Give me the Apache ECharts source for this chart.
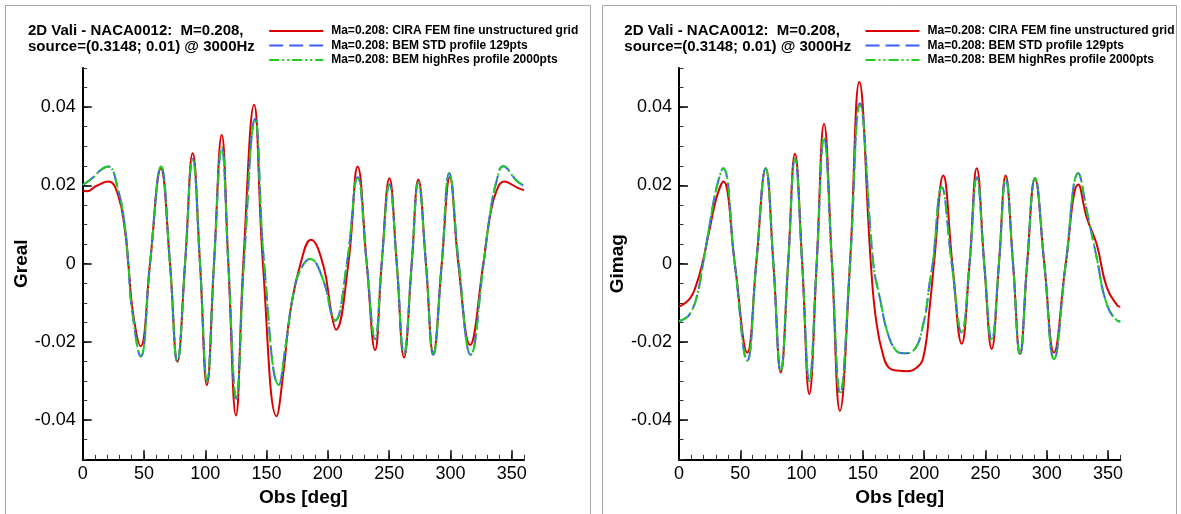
<!DOCTYPE html>
<html><head><meta charset="utf-8">
<script src="https://cdn.jsdelivr.net/npm/echarts@6/dist/echarts.min.js"></script>
<style>html,body{margin:0;padding:0;background:#fff}#c{width:1181px;height:514px}</style>
</head><body><div id="c"></div>
<script>
// ---- data ----
const xTicks = [0, 50, 100, 150, 200, 250, 300, 350];
const yTicks = [-0.04, -0.02, 0, 0.02, 0.04];
const seriesNames = [
  'Ma=0.208: CIRA FEM fine unstructured grid',
  'Ma=0.208: BEM STD profile 129pts',
  'Ma=0.208: BEM highRes profile 2000pts'
];
const panelTitle = '2D Vali - NACA0012:  M=0.208,\nsource=(0.3148; 0.01) @ 3000Hz';
const xName = 'Obs [deg]';
const yNames = ['Greal', 'Gimag'];

// Greal panel: [Obs deg, value]
const grealCira = [[0,0.0187],[3.3,0.0185],[11.4,0.0199],[21,0.0210],[29,0.0174],[34.5,0.0084],[37.2,0],[41,-0.0125],[47.3,-0.0211],[54.9,0],[63.7,0.0243],[71.2,0],[77.2,-0.0250],[83.5,0],[89.7,0.0282],[95.7,0],[101.3,-0.0310],[107.1,0],[113.4,0.0329],[118.8,0],[125,-0.0388],[131,0],[139.8,0.0406],[147,0],[158.2,-0.0390],[164,-0.027],[169,-0.0129],[177.3,-0.0005],[186.2,0.0061],[196.3,-0.0005],[203,-0.0129],[206.6,-0.0169],[216.7,0],[224.3,0.0248],[231.7,0],[238.5,-0.0221],[243.9,0],[250.2,0.0218],[256.2,0],[262.1,-0.0240],[268.4,0],[273.8,0.0215],[280,0],[286,-0.0228],[292.9,0],[299.5,0.0221],[306.4,0],[316,-0.0208],[326.8,0],[332.3,0.0122],[337.7,0.0187],[344,0.0210],[354,0.0195],[360,0.0188]];
const grealBemStd = [[0,0.0201],[8.7,0.0221],[15,0.0240],[20.9,0.0248],[29,0.0187],[34.5,0.0093],[37.2,0],[40,-0.0112],[47.3,-0.0237],[54.9,0],[63.9,0.0248],[71.2,0],[77.2,-0.0252],[83.5,0],[89.7,0.0268],[95.7,0],[101.5,-0.0300],[107.1,0],[113.4,0.0297],[118.8,0],[125.3,-0.0345],[131.5,0],[140.6,0.0370],[148,0],[160,-0.0310],[166,-0.020],[171.8,-0.0078],[177.3,-0.0018],[185.5,0.0012],[196.3,-0.0043],[203,-0.0129],[205.8,-0.0146],[215.5,0],[224.3,0.0221],[231.7,0],[238.5,-0.0193],[243.9,0],[250.2,0.0202],[256.2,0],[262.1,-0.0231],[268.4,0],[273.8,0.0208],[280,0],[286,-0.0233],[292.9,0],[299,0.0231],[306.8,0],[316.5,-0.0233],[327,0],[332.3,0.0128],[337.7,0.0212],[343,0.0249],[354,0.0212],[360,0.0199]];
const grealBemHigh = [[0,0.0201],[8.7,0.0221],[15,0.0240],[20.9,0.0248],[29,0.0187],[34.5,0.0093],[37.2,0],[40,-0.0112],[47.3,-0.0237],[54.9,0],[63.9,0.0248],[71.2,0],[77.2,-0.0252],[83.5,0],[89.7,0.0268],[95.7,0],[101.5,-0.0300],[107.1,0],[113.4,0.0297],[118.8,0],[125.3,-0.0345],[131.5,0],[140.6,0.0368],[148,0],[160,-0.0310],[166,-0.020],[171.8,-0.0078],[177.3,-0.0018],[185.5,0.0012],[196.3,-0.0043],[203,-0.0129],[205.8,-0.0146],[215.5,0],[224.3,0.0221],[231.7,0],[238.5,-0.0193],[243.9,0],[250.2,0.0202],[256.2,0],[262.1,-0.0231],[268.4,0],[273.8,0.0208],[280,0],[286,-0.0233],[292.9,0],[299,0.0231],[306.8,0],[316.5,-0.0233],[327,0],[332.3,0.0128],[337.7,0.0212],[343,0.0249],[354,0.0212],[360,0.0199]];

// Gimag panel: [Obs deg, value]
const gimagCira = [[0,-0.0110],[9,-0.0089],[14.4,-0.0051],[19,0],[25.3,0.0093],[30.7,0.0170],[36.2,0.0210],[45.5,0],[55.7,-0.0227],[63,0],[70.7,0.0244],[77,0],[83,-0.0278],[89,0],[94.6,0.0281],[100.5,0],[106.3,-0.0333],[112.3,0],[118.3,0.0357],[124.8,0],[131.3,-0.0376],[139.5,0],[147.1,0.0464],[156.5,0],[161,-0.0150],[167,-0.0240],[172,-0.0268],[178,-0.0273],[186,-0.0275],[193,-0.0268],[199.3,-0.0240],[204.8,-0.0102],[208,0],[215.6,0.0225],[223,0],[230.6,-0.0205],[237,0],[242.9,0.0244],[249,0],[255.1,-0.0218],[261,0],[266.5,0.0225],[272.5,0],[278.2,-0.0231],[284,0],[290.4,0.0217],[298,0],[305.9,-0.0227],[315.5,0],[325.8,0.0202],[332.6,0.0118],[340.7,0.0050],[348.9,-0.0060],[357.6,-0.0107],[360,-0.0110]];
const gimagBemStd = [[0,-0.0147],[5,-0.0140],[9,-0.0128],[14.4,-0.0086],[19.6,0],[25.3,0.0105],[30.7,0.0195],[36,0.0244],[45.5,0],[55.7,-0.0248],[63,0],[70.7,0.0243],[77,0],[83,-0.0275],[89,0],[94.6,0.0268],[100.5,0],[106.3,-0.0300],[112.3,0],[118.3,0.0323],[124.8,0],[131.5,-0.0333],[139.5,0],[147.6,0.0410],[158.5,0],[164,-0.0090],[170,-0.0175],[177,-0.0222],[183,-0.0229],[191,-0.0223],[199.3,-0.0154],[204.8,-0.0043],[207,0],[214.3,0.0195],[222.5,0],[230.6,-0.0176],[237,0],[242.9,0.0221],[249,0],[255.1,-0.0197],[261,0],[266.5,0.0217],[272.5,0],[278.2,-0.0233],[284,0],[290.4,0.0219],[298,0],[305.9,-0.0244],[315.5,0],[325.8,0.0231],[332.6,0.0136],[340.7,0.0016],[348.9,-0.0103],[357.6,-0.0146],[360,-0.0148]];
const gimagBemHigh = [[0,-0.0147],[5,-0.0140],[9,-0.0128],[14.4,-0.0086],[19.6,0],[25.3,0.0105],[30.7,0.0195],[36,0.0244],[45.5,0],[55.7,-0.0248],[63,0],[70.7,0.0243],[77,0],[83,-0.0275],[89,0],[94.6,0.0268],[100.5,0],[106.3,-0.0300],[112.3,0],[118.3,0.0323],[124.8,0],[131.5,-0.0333],[139.5,0],[147.6,0.0405],[158.5,0],[164,-0.0090],[170,-0.0175],[177,-0.0222],[183,-0.0229],[191,-0.0223],[199.3,-0.0154],[204.8,-0.0043],[207,0],[214.3,0.0195],[222.5,0],[230.6,-0.0176],[237,0],[242.9,0.0221],[249,0],[255.1,-0.0197],[261,0],[266.5,0.0217],[272.5,0],[278.2,-0.0233],[284,0],[290.4,0.0219],[298,0],[305.9,-0.0244],[315.5,0],[325.8,0.0231],[332.6,0.0136],[340.7,0.0016],[348.9,-0.0103],[357.6,-0.0146],[360,-0.0148]];

// ---- styling / layout ----
const FONT = '"Liberation Sans", Arial, Helvetica, sans-serif';
const colors = ['#dd0000', '#3c5cff', '#1fcc1f'];
const dashes = ['solid', [14, 6], [10, 3, 2, 3, 2, 3]];
const gridLefts = [82.7, 679];

const fmtY = v => {
  const r = Math.round(v * 1000);
  if (!yTicks.some(t => Math.round(t * 1000) === r)) return '';
  return r === 0 ? '0' : String(r / 1000);
};
const fmtX = v => xTicks.includes(Math.round(v)) ? String(Math.round(v)) : '';

const grids = [], xAxes = [], yAxes = [], series = [], legends = [], titles = [];
const panelData = [[grealCira, grealBemStd, grealBemHigh], [gimagCira, gimagBemStd, gimagBemHigh]];

gridLefts.forEach((left, g) => {
  grids.push({ left: left, top: 68, width: 441.3, height: 391.3, containLabel: false });
  // minor ticks + labels axis
  xAxes.push({
    type: 'value', gridIndex: g, min: 0, max: 360, interval: 10, position: 'bottom',
    axisLine: { show: true, onZero: false, lineStyle: { color: '#000', width: 2 } },
    axisTick: { show: true, inside: true, length: 4.5, lineStyle: { color: '#333', width: 1 } },
    axisLabel: { show: true, formatter: fmtX, color: '#000', fontSize: 18, fontFamily: FONT, margin: 6 },
    splitLine: { show: false },
    name: xName, nameLocation: 'middle', nameGap: 21,
    nameTextStyle: { color: '#000', fontSize: 19, fontWeight: 'bold', fontFamily: FONT }
  });
  // major ticks axis
  xAxes.push({
    type: 'value', gridIndex: g, min: 0, max: 360, interval: 10, position: 'bottom',
    axisLine: { show: false, onZero: false },
    axisTick: { show: true, inside: true, length: 9, customValues: xTicks, lineStyle: { color: '#000', width: 1.5 } },
    axisLabel: { show: false }, splitLine: { show: false }
  });
  yAxes.push({
    type: 'value', gridIndex: g, min: -0.05, max: 0.05, interval: 0.005, position: 'left',
    axisLine: { show: true, onZero: false, lineStyle: { color: '#000', width: 2 } },
    axisTick: { show: true, inside: true, length: 4.5, lineStyle: { color: '#333', width: 1 } },
    axisLabel: { show: true, formatter: fmtY, color: '#000', fontSize: 18, fontFamily: FONT, margin: 7 },
    splitLine: { show: false },
    name: yNames[g], nameLocation: 'middle', nameGap: 49, nameRotate: 90,
    nameTextStyle: { color: '#000', fontSize: 19, fontWeight: 'bold', fontFamily: FONT }
  });
  yAxes.push({
    type: 'value', gridIndex: g, min: -0.05, max: 0.05, interval: 0.005, position: 'left',
    axisLine: { show: false, onZero: false },
    axisTick: { show: true, inside: true, length: 9, customValues: yTicks, lineStyle: { color: '#000', width: 1.5 } },
    axisLabel: { show: false }, splitLine: { show: false }
  });
  panelData[g].forEach((d, i) => {
    series.push({
      type: 'line', name: seriesNames[i], xAxisIndex: 2 * g, yAxisIndex: 2 * g,
      data: d, smooth: 0.45, symbol: 'none', showSymbol: false,
      lineStyle: { color: colors[i], width: 2, type: dashes[i] },
      itemStyle: { color: colors[i] }, z: 2 + i
    });
  });
  legends.push({
    data: seriesNames, orient: 'vertical', left: left + 185.5, top: 25, padding: 0,
    itemWidth: 54, itemHeight: 12, itemGap: 2.5, selectedMode: false,
    itemStyle: { color: 'rgba(0,0,0,0)', borderWidth: 0, opacity: 0 },
    textStyle: { color: '#000', fontSize: 12, fontWeight: 'bold', fontFamily: FONT, padding: [0, 0, 0, 3] }
  });
  titles.push({
    text: panelTitle, left: left - 54.7, top: 23, padding: 0,
    textStyle: { color: '#000', fontSize: 15, fontWeight: 'bold', fontFamily: FONT, lineHeight: 16 }
  });
});

const chart = echarts.init(document.getElementById('c'), null, { renderer: 'canvas' });
chart.setOption({
  animation: false,
  backgroundColor: '#fff',
  title: titles,
  legend: legends,
  grid: grids,
  xAxis: xAxes,
  yAxis: yAxes,
  series: series,
  graphic: [
    { type: 'rect', shape: { x: 5.5, y: 5.5, width: 585, height: 520 }, style: { fill: 'none', stroke: '#a8a8a8', lineWidth: 1 }, silent: true },
    { type: 'rect', shape: { x: 602.5, y: 5.5, width: 574, height: 520 }, style: { fill: 'none', stroke: '#a8a8a8', lineWidth: 1 }, silent: true }
  ]
});
</script></body></html>
